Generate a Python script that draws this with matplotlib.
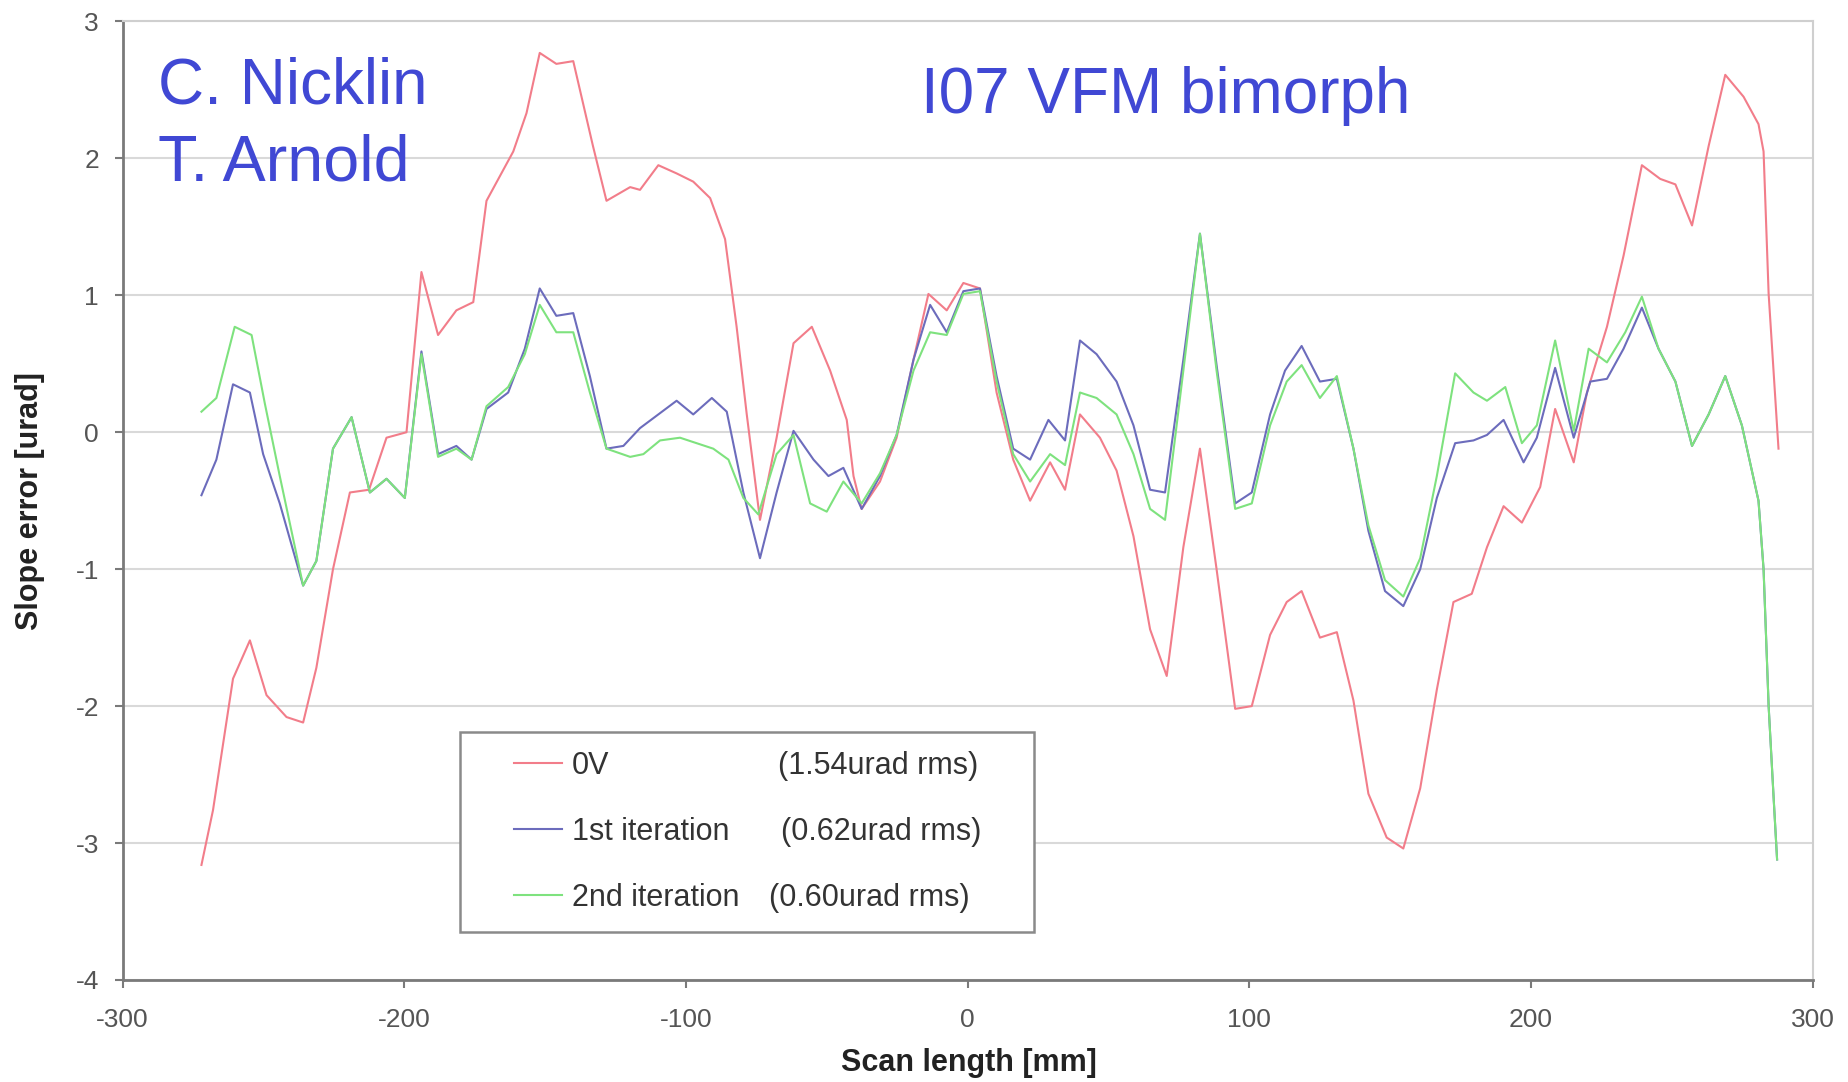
import matplotlib
matplotlib.use("Agg")
import matplotlib.pyplot as plt
from matplotlib.legend_handler import HandlerLine2D

plt.rcParams["font.family"] = ["Liberation Sans", "DejaVu Sans"]
plt.rcParams["axes.unicode_minus"] = False

# -----------------------------------------------------
# Data
# -----------------------------------------------------

x_0v = [-272.0, -267.9, -260.8, -254.8, -248.9, -241.8, -235.9, -231.2, -225.3,
        -219.3, -212.5, -206.3, -199.2, -193.9, -188.0, -181.5, -175.5, -170.8,
        -161.3, -156.6, -151.9, -146.0, -140.0, -133.0, -128.2, -119.8, -116.3,
        -109.8, -103.3, -97.4, -91.4, -86.1, -82.0, -78.4, -73.7, -67.8, -61.8,
        -55.3, -48.8, -42.9, -40.5, -37.6, -31.1, -25.2, -19.2, -13.9, -7.4,
        -1.5, 4.4, 10.3, 16.2, 22.2, 29.3, 34.6, 39.9, 47.0, 52.9, 58.9, 64.8,
        70.7, 76.6, 82.5, 88.4, 95.0, 100.9, 107.4, 113.3, 118.6, 125.1, 131.1,
        137.0, 142.3, 148.8, 154.7, 160.7, 166.6, 172.5, 179.0, 184.4, 190.3,
        196.8, 203.3, 208.6, 215.2, 219.9, 227.0, 232.9, 239.4, 245.9, 251.3,
        257.2, 263.1, 269.0, 275.5, 280.8, 282.6, 284.4, 287.9]
y_0v = [-3.16, -2.76, -1.80, -1.52, -1.92, -2.08, -2.12, -1.72, -1.00,
        -0.44, -0.42, -0.04, 0.00, 1.17, 0.71, 0.89, 0.95, 1.69,
        2.05, 2.33, 2.77, 2.69, 2.71, 2.09, 1.69, 1.79, 1.77,
        1.95, 1.89, 1.83, 1.71, 1.41, 0.77, 0.13, -0.64, -0.04, 0.65,
        0.77, 0.45, 0.09, -0.32, -0.56, -0.36, -0.04, 0.53, 1.01, 0.89,
        1.09, 1.05, 0.29, -0.20, -0.50, -0.22, -0.42, 0.13, -0.04, -0.28, -0.76, -1.44,
        -1.78, -0.84, -0.12, -1.00, -2.02, -2.00, -1.48, -1.24, -1.16, -1.50, -1.46,
        -1.96, -2.64, -2.96, -3.04, -2.60, -1.88, -1.24, -1.18, -0.84, -0.54,
        -0.66, -0.40, 0.17, -0.22, 0.29, 0.77, 1.29, 1.95, 1.85, 1.81,
        1.51, 2.09, 2.61, 2.45, 2.25, 2.05, 1.01, -0.12]

x_1st = [-272.0, -266.7, -260.8, -254.8, -250.1, -244.2, -235.9, -231.2, -225.3,
         -218.7, -212.2, -206.3, -199.8, -193.9, -188.0, -181.5, -176.1, -170.8,
         -163.1, -157.2, -151.9, -146.0, -140.0, -134.1, -128.2, -122.2, -116.3,
         -109.8, -103.3, -97.4, -90.8, -85.5, -79.6, -73.7, -67.8, -61.8, -54.7,
         -49.4, -44.1, -37.6, -31.1, -25.2, -19.2, -13.3, -7.4, -1.5, 4.4, 10.3,
         16.2, 22.2, 28.7, 34.6, 39.9, 45.8, 52.9, 58.9, 64.8, 70.1, 76.6, 82.5,
         88.4, 95.0, 100.9, 107.4, 112.7, 118.6, 125.1, 131.1, 137.0, 142.3,
         148.2, 154.7, 160.7, 166.6, 173.1, 179.6, 184.4, 190.3, 197.4, 202.1,
         208.6, 215.2, 221.1, 227.0, 232.9, 239.4, 245.3, 251.3, 257.2, 263.1,
         269.0, 274.9, 280.8, 282.6, 284.4, 286.2, 287.4]
y_1st = [-0.46, -0.20, 0.35, 0.29, -0.16, -0.52, -1.12, -0.94, -0.12,
         0.11, -0.44, -0.34, -0.48, 0.59, -0.16, -0.10, -0.20, 0.17,
         0.29, 0.61, 1.05, 0.85, 0.87, 0.41, -0.12, -0.10, 0.03,
         0.13, 0.23, 0.13, 0.25, 0.15, -0.44, -0.92, -0.44, 0.01, -0.20,
         -0.32, -0.26, -0.56, -0.32, -0.02, 0.53, 0.93, 0.73, 1.03, 1.05, 0.41,
         -0.12, -0.20, 0.09, -0.06, 0.67, 0.57, 0.37, 0.05, -0.42, -0.44, 0.53, 1.45,
         0.49, -0.52, -0.44, 0.13, 0.45, 0.63, 0.37, 0.39, -0.12, -0.72,
         -1.16, -1.27, -1.00, -0.48, -0.08, -0.06, -0.02, 0.09, -0.22, -0.04,
         0.47, -0.04, 0.37, 0.39, 0.61, 0.91, 0.61, 0.37, -0.10, 0.13,
         0.41, 0.05, -0.50, -1.00, -2.00, -2.68, -3.12]

x_2nd = [-272.0, -266.7, -260.2, -254.2, -249.5, -244.2, -235.9, -231.2, -225.3,
         -218.7, -212.2, -206.3, -199.8, -193.9, -188.0, -181.5, -176.1, -170.8,
         -163.1, -157.2, -151.9, -146.0, -140.0, -134.1, -128.2, -119.8, -115.1,
         -109.2, -102.1, -96.2, -90.3, -84.9, -79.6, -74.3, -67.8, -61.8, -55.9,
         -50.0, -44.1, -37.6, -31.1, -25.2, -19.2, -13.3, -7.4, -1.5, 4.4, 10.3,
         16.2, 22.2, 29.3, 34.6, 39.9, 45.8, 52.9, 58.9, 64.8, 70.1, 76.6, 82.5,
         88.4, 95.0, 100.9, 107.4, 113.3, 118.6, 125.1, 131.1, 137.0, 142.3,
         148.2, 154.7, 160.7, 166.6, 173.1, 179.6, 184.4, 190.9, 196.8, 202.1,
         208.6, 215.2, 220.5, 227.0, 233.5, 239.4, 245.3, 251.3, 257.2, 263.1,
         269.0, 274.9, 280.8, 282.6, 284.4, 286.2, 287.4]
y_2nd = [0.15, 0.25, 0.77, 0.71, 0.21, -0.32, -1.12, -0.94, -0.12,
         0.11, -0.44, -0.34, -0.48, 0.57, -0.18, -0.12, -0.20, 0.19,
         0.33, 0.57, 0.93, 0.73, 0.73, 0.29, -0.12, -0.18, -0.16,
         -0.06, -0.04, -0.08, -0.12, -0.20, -0.48, -0.60, -0.16, -0.02, -0.52,
         -0.58, -0.36, -0.52, -0.30, -0.02, 0.45, 0.73, 0.71, 1.01, 1.03, 0.37,
         -0.16, -0.36, -0.16, -0.24, 0.29, 0.25, 0.13, -0.16, -0.56, -0.64, 0.45, 1.45,
         0.45, -0.56, -0.52, 0.05, 0.37, 0.49, 0.25, 0.41, -0.12, -0.68,
         -1.08, -1.20, -0.92, -0.32, 0.43, 0.29, 0.23, 0.33, -0.08, 0.05,
         0.67, 0.01, 0.61, 0.51, 0.73, 0.99, 0.61, 0.37, -0.10, 0.13,
         0.41, 0.05, -0.50, -1.00, -2.00, -2.68, -3.12]

series_names = ["0V", "1st iteration", "2nd iteration"]
series_rms = ["(1.54urad rms)", "(0.62urad rms)", "(0.60urad rms)"]

x_ticks = [-300, -200, -100, 0, 100, 200, 300]
y_ticks = [-4, -3, -2, -1, 0, 1, 2, 3]


# legend handle drawn only on the right part of the handle box
class ShortLine(HandlerLine2D):
    def get_xdata(self, legend, xdescent, ydescent, width, height, fontsize):
        x0 = -xdescent + 0.42 * width
        return [x0, -xdescent + width], [x0]


# -----------------------------------------------------
# Figure
# -----------------------------------------------------

fig = plt.figure(figsize=(18.49, 10.82), dpi=100)
ax = fig.add_axes([0.0663, 0.0943, 0.9140, 0.8859])

l0, = ax.plot(x_0v, y_0v, color="#f27d8a", lw=1.5)
l1, = ax.plot(x_1st, y_1st, color="#6c6cbc", lw=1.5)
l2, = ax.plot(x_2nd, y_2nd, color="#7ee27e", lw=1.5)

ax.set_xlim(-300, 300)
ax.set_ylim(-4, 3)
ax.set_xticks(x_ticks)
ax.set_yticks(y_ticks)

ax.yaxis.grid(True, color="#d9d9d9", lw=1.5)
ax.set_axisbelow(True)

for side in ["left", "bottom"]:
    ax.spines[side].set_color("#7a7a7a")
    ax.spines[side].set_linewidth(2)
for side in ["top", "right"]:
    ax.spines[side].set_color("#cfcfcf")
    ax.spines[side].set_linewidth(1.5)

ax.tick_params(direction="out", length=6, width=1.5, color="#7a7a7a",
               labelsize=19, labelcolor="#555555")
ax.tick_params(axis="y", pad=11)
ax.tick_params(axis="x", pad=14)

ax.set_xlabel("Scan length [mm]", fontsize=22, fontweight="bold", color="#222222")
ax.set_ylabel("Slope error [urad]", fontsize=22, fontweight="bold", color="#222222")
ax.xaxis.set_label_coords(0.5009, -0.071)
ax.yaxis.set_label_coords(-0.046, 0.5)

# legend
leg = ax.legend([l0, l1, l2], series_names, loc="upper left",
                bbox_to_anchor=(0.1997, 0.0532, 0.3396, 0.2055), mode="expand",
                borderaxespad=0, fancybox=False, frameon=True,
                edgecolor="#8a8a8a", framealpha=1, fontsize=22,
                handlelength=2.7, handletextpad=0.34,
                borderpad=0.62, labelspacing=1.18,
                handler_map={l0: ShortLine(), l1: ShortLine(), l2: ShortLine()})
leg.get_frame().set_linewidth(1.8)
for t in leg.get_texts():
    t.set_color("#333333")

fig.canvas.draw()
rms_x = [0.3878, 0.3896, 0.3825]
inv = ax.transAxes.inverted()
for t, label, xr in zip(leg.get_texts(), series_rms, rms_x):
    bb = t.get_window_extent()
    yy = inv.transform((0, bb.y0))[1]
    ax.text(xr, yy, label, transform=ax.transAxes, fontsize=22,
            color="#333333", va="bottom", ha="left", zorder=10)

# annotations
blue = "#4048d4"
fig.text(0.0857, 0.9043, "C. Nicklin", fontsize=46, color=blue, va="baseline")
fig.text(0.0857, 0.8333, "T. Arnold", fontsize=46.5, color=blue, va="baseline")
fig.text(0.4983, 0.8953, "I07 VFM bimorph", fontsize=46, color=blue, va="baseline")

fig.savefig("out.png", dpi=100, facecolor="white")
plt.close(fig)
